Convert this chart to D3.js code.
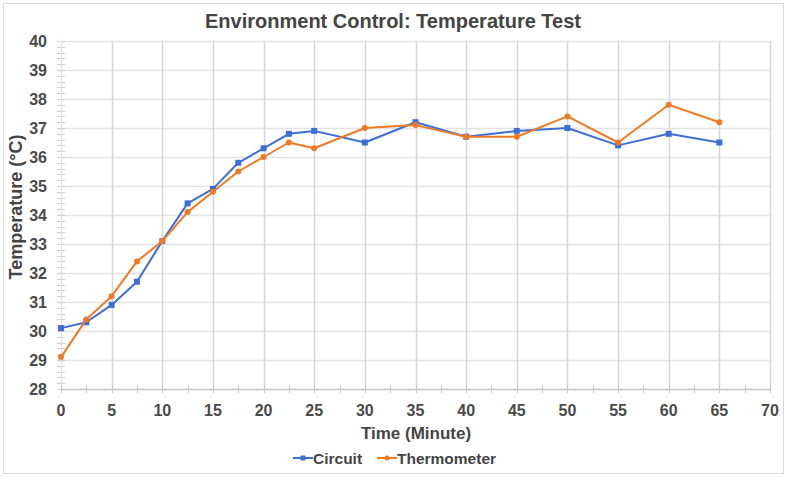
<!DOCTYPE html>
<html><head><meta charset="utf-8">
<script src="https://cdn.jsdelivr.net/npm/d3@7"></script>
<style>
body{margin:0;background:#fff;}
svg{display:block;font-family:"Liberation Sans",Arial,sans-serif;}
</style></head>
<body><svg id="chart" width="787" height="477"></svg>
<script>
const times = [0, 2.5, 5, 7.5, 10, 12.5, 15, 17.5, 20, 22.5, 25, 30, 35, 40, 45, 50, 55, 60, 65];
const circuit = [30.1, 30.3, 30.9, 31.7, 33.1, 34.4, 34.9, 35.8, 36.3, 36.8, 36.9, 36.5, 37.2, 36.7, 36.9, 37.0, 36.4, 36.8, 36.5];
const thermometer = [29.1, 30.4, 31.2, 32.4, 33.1, 34.1, 34.8, 35.5, 36.0, 36.5, 36.3, 37.0, 37.1, 36.7, 36.7, 37.4, 36.5, 37.8, 37.2];
const xTicks = [0, 5, 10, 15, 20, 25, 30, 35, 40, 45, 50, 55, 60, 65, 70];
const yTicks = [28, 29, 30, 31, 32, 33, 34, 35, 36, 37, 38, 39, 40];
const seriesNames = ["Circuit", "Thermometer"];
const title = "Environment Control: Temperature Test";
const xTitle = "Time (Minute)";
const yTitle = "Temperature (°C)";

const colors = {Circuit: "#3b6fd6", Thermometer: "#f07a24"};
const svg = d3.select("#chart");
const W = 787, H = 477;
const m = {left: 61, right: 17, top: 41, bottom: 88};
const x = d3.scaleLinear().domain([0, 70]).range([m.left, W - m.right]);
const y = d3.scaleLinear().domain([28, 40]).range([H - m.bottom, m.top]);

// outer border
svg.append("rect").attr("x", 3.5).attr("y", 3.5).attr("width", W - 7).attr("height", H - 7)
  .attr("fill", "none").attr("stroke", "#d9d9d9").attr("stroke-width", 1);

// horizontal grid
svg.append("g").selectAll("line").data(yTicks).join("line")
  .attr("x1", x(0)).attr("x2", x(70))
  .attr("y1", d => Math.round(y(d)) + 0.5).attr("y2", d => Math.round(y(d)) + 0.5)
  .attr("stroke", "#e3e3e3").attr("stroke-width", 1.5);
// vertical grid
svg.append("g").selectAll("line").data(xTicks.filter(d => d > 0)).join("line")
  .attr("x1", d => Math.round(x(d)) + 0.5).attr("x2", d => Math.round(x(d)) + 0.5)
  .attr("y1", y(40)).attr("y2", y(28))
  .attr("stroke", "#d6d6d6").attr("stroke-width", 1.5);

// y minor ticks
const yMinor = d3.range(28, 40.001, 0.2);
svg.append("g").selectAll("line").data(yMinor).join("line")
  .attr("x1", x(0) - 4).attr("x2", x(0) + 4)
  .attr("y1", d => Math.round(y(d)) + 0.5).attr("y2", d => Math.round(y(d)) + 0.5)
  .attr("stroke", "#cfcfcf").attr("stroke-width", 1);
// y axis line
svg.append("line").attr("x1", x(0) + 0.5).attr("x2", x(0) + 0.5).attr("y1", y(40)).attr("y2", y(28))
  .attr("stroke", "#e0e0e0").attr("stroke-width", 1);

// x axis line
svg.append("line").attr("x1", x(0)).attr("x2", x(70)).attr("y1", Math.round(y(28)) + 0.5).attr("y2", Math.round(y(28)) + 0.5)
  .attr("stroke", "#c8c8c8").attr("stroke-width", 1.5);
// x minor ticks
const xMinor = d3.range(0, 70.001, 2.5);
svg.append("g").selectAll("line").data(xMinor).join("line")
  .attr("x1", d => Math.round(x(d)) + 0.5).attr("x2", d => Math.round(x(d)) + 0.5)
  .attr("y1", y(28) - 4).attr("y2", y(28) + 4)
  .attr("stroke", "#c8c8c8").attr("stroke-width", 1);

// tick labels
svg.append("g").selectAll("text").data(yTicks).join("text")
  .attr("x", 47).attr("y", d => y(d)).attr("dy", "0.36em")
  .attr("text-anchor", "end").attr("font-size", 16).attr("font-weight", "bold").attr("fill", "#4a4a4a")
  .text(d => d);
svg.append("g").selectAll("text").data(xTicks).join("text")
  .attr("x", d => x(d)).attr("y", 410).attr("dy", "0.36em")
  .attr("text-anchor", "middle").attr("font-size", 16).attr("font-weight", "bold").attr("fill", "#4a4a4a")
  .text(d => d);

// titles
svg.append("text").attr("x", 393).attr("y", 21).attr("dy", "0.36em").attr("text-anchor", "middle")
  .attr("font-size", 20).attr("font-weight", "bold").attr("fill", "#444").text(title);
svg.append("text").attr("x", 416).attr("y", 433).attr("dy", "0.36em").attr("text-anchor", "middle")
  .attr("font-size", 17).attr("font-weight", "bold").attr("fill", "#444").text(xTitle);
svg.append("text").attr("transform", "translate(16,207) rotate(-90)").attr("dy", "0.36em").attr("text-anchor", "middle")
  .attr("font-size", 18).attr("font-weight", "bold").attr("fill", "#444").text(yTitle);

// series
const data = {Circuit: circuit, Thermometer: thermometer};
const line = d3.line().x(d => x(d[0])).y(d => y(d[1]));
seriesNames.forEach(name => {
  const pts = times.map((t, i) => [t, data[name][i]]);
  svg.append("path").datum(pts).attr("d", line).attr("fill", "none")
    .attr("stroke", colors[name]).attr("stroke-width", 2).attr("stroke-linejoin", "round");
  if (name === "Circuit") {
    svg.append("g").selectAll("rect").data(pts).join("rect")
      .attr("x", d => x(d[0]) - 3).attr("y", d => y(d[1]) - 3).attr("width", 6).attr("height", 6)
      .attr("fill", colors[name]);
  } else {
    svg.append("g").selectAll("circle").data(pts).join("circle")
      .attr("cx", d => x(d[0])).attr("cy", d => y(d[1])).attr("r", 3)
      .attr("fill", colors[name]);
  }
});

// legend
const leg = svg.append("g");
const legItems = [{name: "Circuit", x: 293}, {name: "Thermometer", x: 377}];
legItems.forEach(it => {
  leg.append("line").attr("x1", it.x).attr("x2", it.x + 20).attr("y1", 458).attr("y2", 458)
    .attr("stroke", colors[it.name]).attr("stroke-width", 2);
  if (it.name === "Circuit") {
    leg.append("rect").attr("x", it.x + 7.5).attr("y", 455.5).attr("width", 5).attr("height", 5).attr("fill", colors[it.name]);
  } else {
    leg.append("circle").attr("cx", it.x + 10).attr("cy", 458).attr("r", 2.5).attr("fill", colors[it.name]);
  }
  leg.append("text").attr("x", it.x + 20).attr("y", 458).attr("dy", "0.36em")
    .attr("font-size", 15.5).attr("font-weight", "bold").attr("fill", "#444").text(it.name);
});
</script></body></html>
